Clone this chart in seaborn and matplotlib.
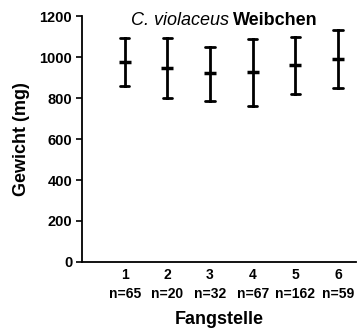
import matplotlib
matplotlib.use("Agg")
import matplotlib.pyplot as plt
import seaborn as sns
import pandas as pd

sites = ["1", "2", "3", "4", "5", "6"]
n_values = [65, 20, 32, 67, 162, 59]
means = [977, 948, 922, 927, 959, 990]
lower = [858, 798, 784, 762, 820, 847]
upper = [1093, 1091, 1050, 1086, 1099, 1132]
y_ticks = [0, 200, 400, 600, 800, 1000, 1200]

sns.set_theme(style="ticks")
plt.rcParams["font.family"] = ["Liberation Sans", "DejaVu Sans"]
plt.rcParams["font.weight"] = "bold"
plt.rcParams["text.color"] = "black"
plt.rcParams["axes.labelcolor"] = "black"
plt.rcParams["xtick.color"] = "black"
plt.rcParams["ytick.color"] = "black"

labels = [f"{s}\nn={n}" for s, n in zip(sites, n_values)]
rows = []
for lab, lo, m, hi in zip(labels, lower, means, upper):
    for v in (lo, m, hi):
        rows.append({"Fangstelle": lab, "Gewicht": v})
df = pd.DataFrame(rows)

fig = plt.figure(figsize=(3.61, 3.34), dpi=100)
ax = fig.add_axes([0.227, 0.2156, 0.759, 0.7364])

sns.pointplot(data=df, x="Fangstelle", y="Gewicht", order=labels,
              estimator="median", errorbar=("pi", 100),
              color="black", markers="_", linestyle="none",
              capsize=0.22, err_kws={"linewidth": 2.0},
              markersize=8, markeredgewidth=2.5, ax=ax)

ax.set_ylim(0, 1200)
ax.set_xlim(-1.0, 5.42)
ax.set_yticks(y_ticks)
ax.set_yticklabels([str(t) for t in y_ticks], fontsize=10.5, fontweight="bold")
ax.set_xticklabels(labels, fontsize=10, fontweight="bold", linespacing=1.5)
ax.tick_params(axis="x", length=0, pad=4)
ax.tick_params(axis="y", length=4, width=1.2, pad=3)
for s in ["top", "right"]:
    ax.spines[s].set_visible(False)
for s in ["left", "bottom"]:
    ax.spines[s].set_linewidth(1.3)
    ax.spines[s].set_color("black")

ax.set_xlabel("Fangstelle", fontsize=13, fontweight="bold", labelpad=7)
ax.set_ylabel("Gewicht (mg)", fontsize=13, fontweight="bold", labelpad=7)

ax.text(0.535, 0.982, "C. violaceus", transform=ax.transAxes, ha="right",
        va="center", fontsize=13, fontstyle="italic", fontweight="normal")
ax.text(0.552, 0.982, "Weibchen", transform=ax.transAxes, ha="left",
        va="center", fontsize=13, fontweight="bold")

fig.savefig("out.png", dpi=100)
